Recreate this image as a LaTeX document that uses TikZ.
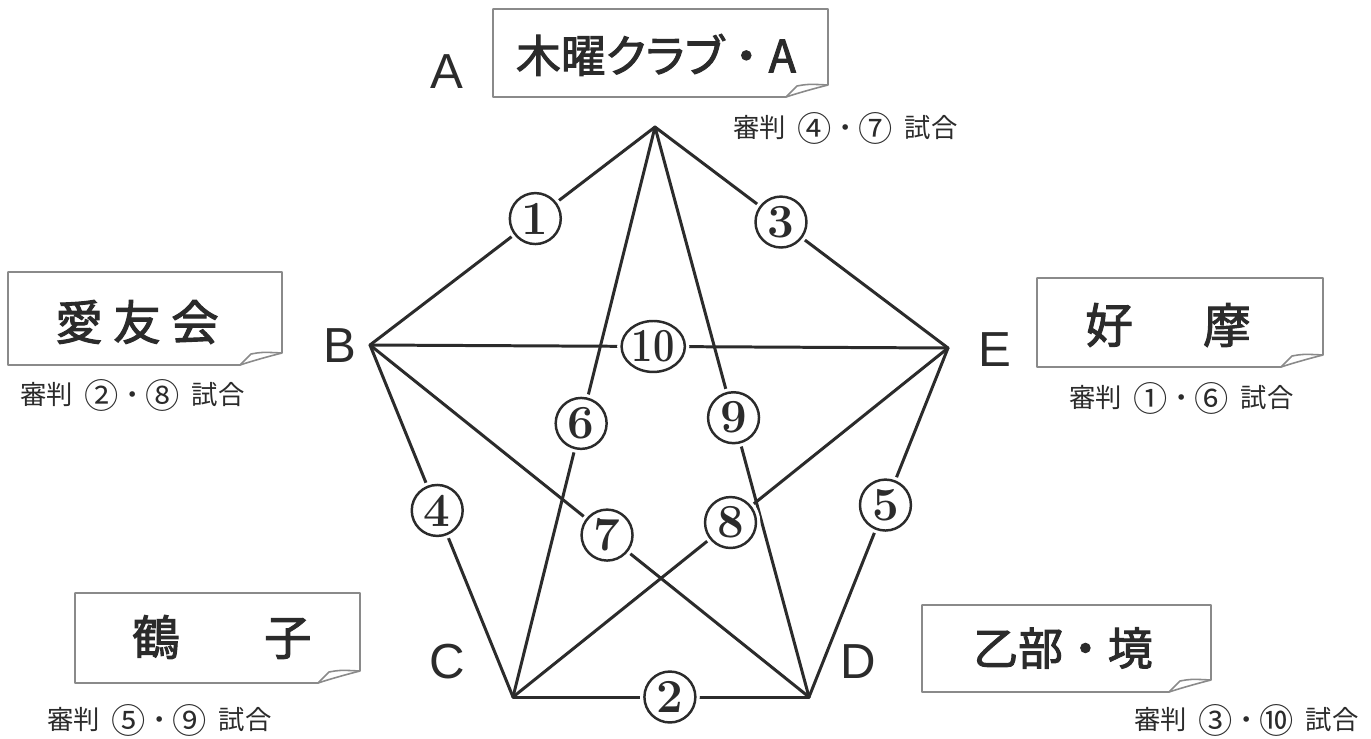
\documentclass[tikz,border=0pt]{standalone}
\usepackage{fontspec}
\usepackage{graphicx}
\usetikzlibrary{calc,shapes.geometric}
\newfontfamily\jp{Noto Sans CJK JP}
\newfontfamily\jpb[RawFeature=+palt,FakeBold=2.2]{Noto Sans CJK JP}
\newfontfamily\jpbf[FakeBold=2.2]{Noto Sans CJK JP}
\newfontfamily\lsans{Liberation Sans}
\definecolor{ink}{HTML}{2B2B2B}
\definecolor{frame}{HTML}{8A8A8A}
\tikzset{
 edge/.style={draw=ink,line width=1.7pt,line cap=round},
 lbl/.style={circle,draw=ink,line width=1.4pt,fill=white,preaction={draw=white,line width=5pt},minimum size=29pt,inner sep=0pt,font=\bfseries\fontsize{27}{27}\selectfont,text=ink},
 lblwide/.style={lbl,ellipse,minimum width=36pt,minimum height=29pt},
 vlab/.style={font=\lsans\fontsize{28}{28}\selectfont,text=ink},
 boxtxt/.style={font=\jpb\fontsize{27}{27}\selectfont,text=ink},
 boxtxtn/.style={font=\jpb\fontsize{25.5}{25.5}\selectfont,text=ink},
 reftxt/.style={font=\jp\fontsize{15}{15}\selectfont,text=ink,anchor=west,inner sep=0pt},
 boxline/.style={draw=frame,line width=0.9pt,line join=round},
}
\newcommand\namebox[4]{%
 \draw[boxline,fill=white] (#1,#2) -- (#3,#2) -- (#3,{#4-12}) .. controls ({#3-12},{#4-9}) and ({#3-30},{#4-4}) .. ({#3-42},#4) -- (#1,#4) -- cycle;
 \draw[boxline] ({#3-42},#4) -- ({#3-31},{#4-11}) .. controls ({#3-20},{#4-13}) .. (#3,{#4-12});
}
\newcommand\gap{\hspace{0.45em}}
\newcommand\cd[1]{\raisebox{-0.13em}{\scalebox{1.3}{#1}}}
\begin{document}
\begin{tikzpicture}[x=0.02cm,y=-0.02cm]
\useasboundingbox[fill=white] (0,0) rectangle (1371,738);
% vertices
\coordinate (A) at (655,127);
\coordinate (B) at (370,345);
\coordinate (E) at (948,348);
\coordinate (C) at (513,697);
\coordinate (D) at (809,697);
% edges
\draw[edge] (A) -- (B);
\draw[edge] (A) -- (E);
\draw[edge] (A) -- (C);
\draw[edge] (A) -- (D);
\draw[edge] (B) -- (E);
\draw[edge] (B) -- (C);
\draw[edge] (B) -- (D);
\draw[edge] (E) -- (C);
\draw[edge] (E) -- (D);
\draw[edge] (C) -- (D);
% edge labels
\node[lbl] (l1) at ($(A)!0.42!(B)$) {1};
\node[lbl] (l2) at ($(C)!0.53!(D)$) {2};
\node[lbl] (l3) at ($(A)!0.43!(E)$) {3};
\node[lbl] (l4) at ($(B)!0.47!(C)$) {4};
\node[lbl] (l5) at ($(E)!0.45!(D)$) {5};
\node[lbl] (l6) at ($(A)!0.52!(C)$) {6};
\node[lbl] (l7) at ($(B)!0.54!(D)$) {7};
\node[lbl] (l8) at ($(E)!0.50!(C)$) {8};
\node[lbl] (l9) at ($(A)!0.51!(D)$) {9};
\node[lblwide] (l10) at ($(B)!0.49!(E)$) {\scalebox{0.8}[1]{10}};
% vertex letters
\node[vlab] (vA) at (447,72) {A};
\node[vlab] (vB) at (340,346) {B};
\node[vlab] (vE) at (995,350) {E};
\node[vlab] (vC) at (447,662) {C};
\node[vlab] (vD) at (858,662) {D};
% name boxes
\namebox{493}{9}{828}{97}
\node[boxtxtn] (tA) at (656,55) {木曜クラブ{\jpbf ・}A};
\namebox{8}{272}{282}{365}
\node[boxtxt] (tB) at (137,322) {愛\hspace{6pt}友\hspace{6pt}会};
\namebox{1037}{278}{1323}{367}
\node[boxtxt] (tE) at (1168,325) {好\hspace{40pt}摩};
\namebox{75}{593}{360}{683}
\node[boxtxt] (tC) at (222,637) {鶴\hspace{48pt}子};
\namebox{922}{605}{1211}{692}
\node[boxtxtn] (tD) at (1063,648) {乙部{\jpbf ・}境};
% referee texts
\node[reftxt] (r1) at (733,128) {審判\gap\cd{④}・\cd{⑦}\gap 試合};
\node[reftxt] (r2) at (20,395) {審判\gap\cd{②}・\cd{⑧}\gap 試合};
\node[reftxt] (r3) at (1069,398) {審判\gap\cd{①}・\cd{⑥}\gap 試合};
\node[reftxt] (r4) at (47,720) {審判\gap\cd{⑤}・\cd{⑨}\gap 試合};
\node[reftxt] (r5) at (1134,720) {審判\gap\cd{③}・\cd{⑩}\gap 試合};
\end{tikzpicture}
\end{document}
